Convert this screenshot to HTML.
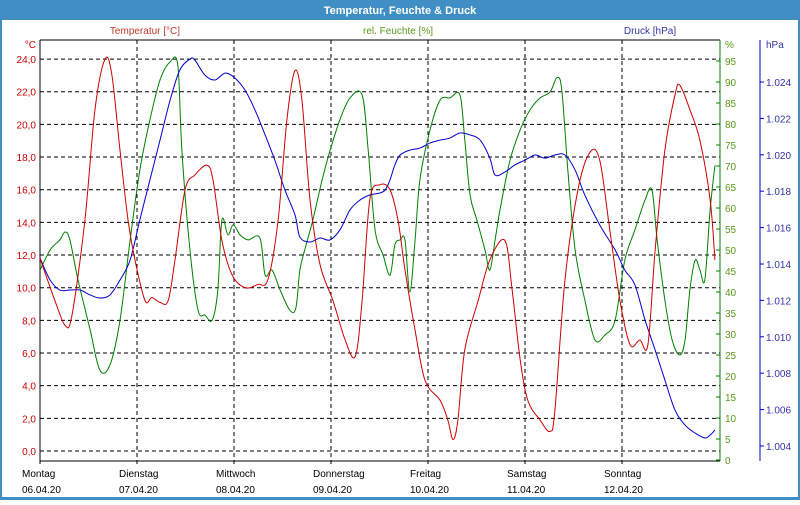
<!DOCTYPE html>
<html><head><meta charset="utf-8"><style>
body{margin:0;width:800px;height:500px;overflow:hidden;background:#fff;font-family:"Liberation Sans",sans-serif}
</style></head><body>
<svg width="800" height="500" xmlns="http://www.w3.org/2000/svg" font-family="Liberation Sans, sans-serif">
<rect x="0" y="0" width="800" height="500" fill="#3f8fc4"/>
<rect x="2" y="20" width="796" height="477" fill="#fff"/>
<text x="400" y="14" fill="#fff" font-size="11" font-weight="bold" text-anchor="middle">Temperatur, Feuchte &amp; Druck</text>
<text x="145" y="34" fill="#c0392b" font-size="10" text-anchor="middle">Temperatur [°C]</text>
<text x="398" y="34" fill="#5a9a1a" font-size="10" text-anchor="middle">rel. Feuchte [%]</text>
<text x="650" y="34" fill="#3333aa" font-size="10" text-anchor="middle">Druck [hPa]</text>
<g id="grid"></g><g id="axes"></g><g id="series"></g>
</svg>
<script>
const dayNames=["Montag","Dienstag","Mittwoch","Donnerstag","Freitag","Samstag","Sonntag"];
const dayDates=["06.04.20","07.04.20","08.04.20","09.04.20","10.04.20","11.04.20","12.04.20"];
const tempTicks=[0,2,4,6,8,10,12,14,16,18,20,22,24];
const humTicks=[0,5,10,15,20,25,30,35,40,45,50,55,60,65,70,75,80,85,90,95];
const presTicks=[1004,1006,1008,1010,1012,1014,1016,1018,1020,1022,1024];
const tempHours=[0,3.7,6.2,7.9,11.1,13.6,16.1,17.8,19.8,21.8,23.5,26,27.7,29.7,31.7,33.4,35.9,38.3,41.3,42.8,45,47.5,50.7,53.9,56.4,58.9,61.1,63.1,64.8,66.8,69.3,72.5,75.5,78,79.7,81.6,84.1,86.6,88.6,90.3,92.8,95.3,99,100.9,102.2,103.4,105.1,108.4,111.3,115,116.8,118.8,120.7,123.7,126.2,127.4,129.9,133.1,136.1,138.5,141,143.5,146,148.4,150.4,152.2,154.6,157.1,158.3,160.8,163.3,165.8,167];
const tempValues=[11.8,9.2,7.7,8.3,14.1,20.9,24,23,18.4,14.1,11.7,9.2,9.4,9.1,9.2,11.7,16,16.9,17.5,16.6,12.9,10.8,10,10.2,10.5,14.1,20.3,23.3,21.5,15.4,11.4,9.2,6.8,5.8,9.2,15.4,16.3,16,14.1,11.1,7.4,4.3,3.1,1.9,0.7,1.9,6.2,9.2,11.7,12.9,9.9,5.6,3.1,1.9,1.2,2.5,10.5,16,18.3,17.8,13.5,9.2,6.5,6.8,6.5,12.3,18.4,21.8,22.4,20.9,19,15.4,11.7];
const humHours=[0,2.5,4.9,6.2,7.4,9.4,12.4,14.8,17.3,19.8,22.3,24.7,27.2,29.7,32.2,34.1,35.1,37.1,39.1,40.8,42.6,44,45,46.5,47.8,49.5,51.5,54.4,55.7,57.4,59.4,61.8,63.3,64.3,65.5,67.5,69.8,71.8,74.2,76.7,79.7,81.2,82.9,84.9,86.6,87.8,89.1,90.3,91.5,92.8,94,96.5,99,101.4,103.9,105.1,106.4,108.1,110.1,111.3,112.6,113.8,116.3,118.8,121.2,123.7,126.2,127.9,129.1,130.6,132.4,134.8,137.3,139.8,142.3,144.7,147.2,149.7,151.4,152.7,154.6,156.4,158.3,159.6,160.8,162.1,163.3,164.5,165.8,167];
const humValues=[45.2,50,52.4,54.3,52.4,42.9,31,21.4,22.6,33.3,52.4,69,81,90.5,94.8,94,73.8,50,35.7,34.5,33.3,40.5,57.1,53.6,56,53.6,52.4,52.9,44,45.2,40.5,35.7,36.2,45.2,50,57.1,66.7,73.8,81,86.2,86.9,73.8,54.8,48.8,44,51.2,52.4,52.4,40,52.4,66.7,78.6,85.7,86.2,86.9,76.2,63.1,57.1,50,45.2,52.4,59.5,71.4,78.6,83.3,86.2,87.6,91,88.1,69,50,38.1,28.6,29.8,33.3,47.6,54.8,61.9,64.3,52.4,38.1,28.6,25,28.6,40.5,47.6,45.2,42.9,59.5,70.2];
const presHours=[0,2.5,4.9,7.4,9.9,12.4,14.8,17.3,19.8,22.3,24.7,27.2,29.7,32.2,34.6,37.1,38.3,40.8,43.3,45.8,48.2,50.7,53.2,55.7,58.1,60.6,63.1,64.3,66.8,69.3,71.7,74.2,76.7,79.2,81.6,84.1,85.4,86.6,87.8,89.1,91.5,94,96.5,99,101.4,103.9,106.4,108.9,111.3,112.6,115,117.5,120,122.5,124.9,127.4,129.9,132.4,134.8,138.5,142.3,144.7,147.2,149.7,152.2,154.6,157.1,159.6,162.1,164.5,165.8,167];
const presValues=[1014.33,1013.12,1012.57,1012.57,1012.57,1012.3,1012.13,1012.3,1013.12,1014.22,1016.42,1018.62,1020.81,1023.01,1024.66,1025.26,1025.21,1024.38,1024.11,1024.49,1024.22,1023.56,1022.46,1021.09,1019.71,1018.07,1016.69,1015.48,1015.21,1015.43,1015.32,1015.87,1016.97,1017.52,1017.79,1017.9,1018.07,1018.62,1019.44,1019.99,1020.26,1020.37,1020.65,1020.81,1020.92,1021.2,1021.09,1020.81,1019.82,1018.89,1019.05,1019.44,1019.71,1019.99,1019.82,1019.99,1019.99,1019.16,1017.79,1016.14,1014.77,1013.67,1012.85,1010.92,1009.27,1007.63,1005.98,1005.15,1004.71,1004.44,1004.6,1004.88];

const NS="http://www.w3.org/2000/svg";
const X=h=>40+h*(679/168);
const YT=t=>451-t*16.33;
const YH=v=>460-v*4.2;
const YP=p=>446-(p-1004)*18.2;
function mk(tag,attrs,parent,text){const e=document.createElementNS(NS,tag);for(const k in attrs)e.setAttribute(k,attrs[k]);if(text!==undefined)e.textContent=text;parent.appendChild(e);return e;}
const grid=document.getElementById('grid'),axes=document.getElementById('axes'),series=document.getElementById('series');
const fmt=n=>n.toFixed(1).replace('.',',');
tempTicks.forEach(t=>{
  const y=YT(t);
  if(t>0){const l=mk('line',{x1:40,x2:720,y1:y,y2:y,stroke:'#000','stroke-dasharray':'4,3'},grid);
  
  }
  else{const l=mk('line',{x1:40,x2:720,y1:y,y2:y,stroke:'#000','stroke-dasharray':'4,3'},grid);
  
  }
  const tx=mk('text',{x:36,y:y+4,'font-size':10,fill:'#cc0000','text-anchor':'end'},axes,fmt(t));
  
  
});
for(let d=1;d<7;d++){const x=X(d*24);const l=mk('line',{x1:x,x2:x,y1:40,y2:464,stroke:'#000','stroke-dasharray':'4,3'},grid);
  
  }
dayNames.forEach((n,i)=>{const x=X(i*24)-18;
  const a=mk('text',{x:x,y:477,'font-size':10,fill:'#000'},axes,n);
  
  
  const b=mk('text',{x:x,y:493,'font-size':10,fill:'#000'},axes,dayDates[i]);
  
  });
humTicks.forEach(v=>{const y=YH(v);
  const l=mk('line',{x1:716,x2:720,y1:y,y2:y,stroke:'#008000'},axes);
  
  
  const t=mk('text',{x:725,y:y+4,'font-size':10,fill:'#5a9a1a'},axes,String(v));
  
  });
presTicks.forEach(p=>{const y=YP(p);
  const l=mk('line',{x1:760,x2:764,y1:y,y2:y,stroke:'#0000cc'},axes);
  
  
  const t=mk('text',{x:766,y:y+4,'font-size':10,fill:'#3333aa'},axes,(p/1000).toFixed(3));
  
  });
[['line',{x1:40,x2:720,y1:40,y2:40,stroke:'#000'},'plot-top-border'],
 ['line',{x1:40,x2:40,y1:40,y2:464,stroke:'#000'},'temperature-axis'],
 ['line',{x1:40,x2:720,y1:461,y2:461,stroke:'#000'},'time-axis'],
 ['line',{x1:720,x2:720,y1:40,y2:461,stroke:'#008000'},'humidity-axis'],
 ['line',{x1:760,x2:760,y1:40,y2:461,stroke:'#0000cc'},'pressure-axis']].forEach(a=>{const e=mk(a[0],a[1],axes);
  
  });
const u1=mk('text',{x:36,y:48,'font-size':10,fill:'#cc0000','text-anchor':'end'},axes,'°C');


const u2=mk('text',{x:725,y:48,'font-size':10,fill:'#5a9a1a'},axes,'%');


const u3=mk('text',{x:766,y:48,'font-size':10,fill:'#3333aa'},axes,'hPa');


function path(hs,vs,fy){let d='';const p=hs.map((h,i)=>[X(h),fy(vs[i])]);
  d='M'+p[0][0]+','+p[0][1];
  for(let i=0;i<p.length-1;i++){const p0=p[i-1]||p[i],p1=p[i],p2=p[i+1],p3=p[i+2]||p2;
    d+=' C'+(p1[0]+(p2[0]-p0[0])/6)+','+(p1[1]+(p2[1]-p0[1])/6)+' '+(p2[0]-(p3[0]-p1[0])/6)+','+(p2[1]-(p3[1]-p1[1])/6)+' '+p2[0]+','+p2[1];}
  return d;}
const ph=mk('path',{d:path(humHours,humValues,YH),fill:'none',stroke:'#008000','stroke-width':1},series);


const pp=mk('path',{d:path(presHours,presValues,YP),fill:'none',stroke:'#0000cc','stroke-width':1},series);


const pt=mk('path',{d:path(tempHours,tempValues,YT),fill:'none',stroke:'#cc0000','stroke-width':1},series);


</script>
</body></html>
